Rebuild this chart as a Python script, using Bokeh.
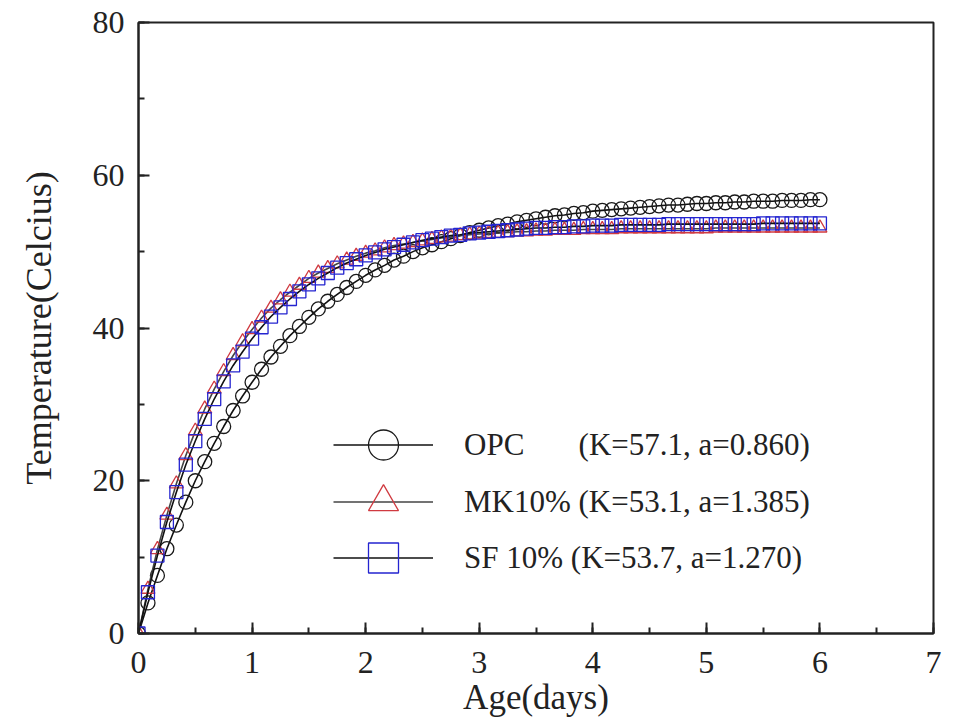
from bokeh.plotting import figure
from bokeh.models import ColumnDataSource, Legend, LegendItem, SingleIntervalTicker, Range1d
from bokeh.embed import file_html
from bokeh.resources import INLINE

# ---- data (one reading every 2 hours) ----
age_hours = [0, 2, 4, 6, 8, 10, 12, 14, 16, 18, 20, 22,
             24, 26, 28, 30, 32, 34, 36, 38, 40, 42, 44, 46,
             48, 50, 52, 54, 56, 58, 60, 62, 64, 66, 68, 70,
             72, 74, 76, 78, 80, 82, 84, 86, 88, 90, 92, 94,
             96, 98, 100, 102, 104, 106, 108, 110, 112, 114, 116, 118,
             120, 122, 124, 126, 128, 130, 132, 134, 136, 138, 140, 142, 144]

opc_temp = [0.0, 4.0, 7.6, 11.1, 14.2, 17.2, 20.0, 22.5, 24.9, 27.1, 29.2, 31.1,
            32.9, 34.6, 36.2, 37.6, 39.0, 40.2, 41.4, 42.5, 43.5, 44.4, 45.3, 46.1,
            46.9, 47.6, 48.2, 48.9, 49.4, 50.0, 50.5, 50.9, 51.3, 51.7, 52.1, 52.5,
            52.8, 53.1, 53.4, 53.6, 53.9, 54.1, 54.3, 54.5, 54.7, 54.8, 55.0, 55.1,
            55.3, 55.4, 55.5, 55.6, 55.7, 55.8, 55.9, 56.0, 56.1, 56.1, 56.2, 56.3,
            56.3, 56.4, 56.4, 56.5, 56.5, 56.6, 56.6, 56.6, 56.7, 56.7, 56.7, 56.8, 56.8]

mk_temp = [0.0, 5.8, 11.0, 15.5, 19.6, 23.3, 26.5, 29.4, 32.0, 34.3, 36.4, 38.2,
           39.8, 41.3, 42.6, 43.7, 44.7, 45.6, 46.5, 47.2, 47.8, 48.4, 48.9, 49.4,
           49.8, 50.1, 50.5, 50.8, 51.0, 51.2, 51.4, 51.6, 51.8, 51.9, 52.1, 52.2,
           52.3, 52.4, 52.4, 52.5, 52.6, 52.6, 52.7, 52.7, 52.8, 52.8, 52.8, 52.9,
           52.9, 52.9, 52.9, 53.0, 53.0, 53.0, 53.0, 53.0, 53.0, 53.0, 53.0, 53.0,
           53.0, 53.1, 53.1, 53.1, 53.1, 53.1, 53.1, 53.1, 53.1, 53.1, 53.1, 53.1, 53.1]

sf_temp = [0.0, 5.4, 10.2, 14.6, 18.5, 22.1, 25.2, 28.1, 30.7, 33.0, 35.1, 36.9,
           38.6, 40.1, 41.5, 42.7, 43.8, 44.8, 45.7, 46.5, 47.2, 47.9, 48.5, 49.0,
           49.5, 49.9, 50.3, 50.6, 50.9, 51.2, 51.5, 51.7, 51.9, 52.1, 52.2, 52.4,
           52.5, 52.6, 52.7, 52.8, 52.9, 53.0, 53.1, 53.1, 53.2, 53.2, 53.3, 53.3,
           53.4, 53.4, 53.4, 53.5, 53.5, 53.5, 53.5, 53.5, 53.6, 53.6, 53.6, 53.6,
           53.6, 53.6, 53.6, 53.6, 53.6, 53.6, 53.7, 53.7, 53.7, 53.7, 53.7, 53.7, 53.7]

age_days = [h / 24 for h in age_hours]

series_labels = ["OPC\u00a0\u00a0\u00a0\u00a0\u00a0\u00a0\u00a0(K=57.1, a=0.860)",
                 "MK10% (K=53.1, a=1.385)",
                 "SF 10% (K=53.7, a=1.270)"]

x_title = "Age(days)"
y_title = "Temperature(Celcius)"

FONT = "Liberation Serif"
AXC = "#222222"

p = figure(width=942, height=724, output_backend="svg", toolbar_location=None,
           x_range=Range1d(0, 7), y_range=Range1d(0, 80),
           min_border_left=138, min_border_right=9, min_border_top=22, min_border_bottom=91)
p.background_fill_color = "white"
p.border_fill_color = "white"
p.outline_line_color = AXC
p.outline_line_width = 2
p.xgrid.visible = False
p.ygrid.visible = False

p.xaxis.ticker = SingleIntervalTicker(interval=1, num_minor_ticks=2)
p.yaxis.ticker = SingleIntervalTicker(interval=20, num_minor_ticks=2)

for ax in (p.xaxis[0], p.yaxis[0]):
    ax.axis_line_color = AXC
    ax.axis_line_width = 2
    ax.major_tick_line_color = AXC
    ax.major_tick_line_width = 2
    ax.minor_tick_line_color = AXC
    ax.minor_tick_line_width = 2
    ax.major_tick_in = 11
    ax.major_tick_out = 0
    ax.minor_tick_in = 6
    ax.minor_tick_out = 0
    ax.major_label_text_font = FONT
    ax.major_label_text_font_size = "32px"
    ax.major_label_text_color = AXC
    ax.axis_label_text_font = FONT
    ax.axis_label_text_font_style = "normal"
    ax.axis_label_text_color = AXC

p.xaxis.axis_label = x_title
p.yaxis.axis_label = y_title
p.xaxis.axis_label_text_font_size = "35px"
p.yaxis.axis_label_text_font_size = "36px"
p.xaxis.major_label_standoff = 18
p.xaxis.axis_label_standoff = 2
p.yaxis.major_label_standoff = 14
p.yaxis.axis_label_standoff = 31

src_opc = ColumnDataSource(dict(x=age_days, y=opc_temp))
src_mk = ColumnDataSource(dict(x=age_days, y=mk_temp))
src_sf = ColumnDataSource(dict(x=age_days, y=sf_temp))

l_opc = p.line("x", "y", source=src_opc, line_color="#111111", line_width=1.6)
s_opc = p.scatter("x", "y", source=src_opc, marker="circle", size=14,
                  fill_color=None, line_color="#1a1a1a", line_width=1.3)
l_mk = p.line("x", "y", source=src_mk, line_color="#444444", line_width=1.6)
s_mk = p.scatter("x", "y", source=src_mk, marker="triangle", size=14,
                 fill_color=None, line_color="#d03a40", line_width=1.3)
l_sf = p.line("x", "y", source=src_sf, line_color="#111111", line_width=1.6)
s_sf = p.scatter("x", "y", source=src_sf, marker="square", size=13,
                 fill_color=None, line_color="#2424d0", line_width=1.3)

entries = [(series_labels[0], [l_opc, s_opc], 151),
           (series_labels[1], [l_mk, s_mk], 94),
           (series_labels[2], [l_sf, s_sf], 38)]
for label, rends, ypos in entries:
    lg = Legend(items=[LegendItem(label=label, renderers=rends)],
                location=(195, ypos), glyph_width=100, glyph_height=75,
                label_standoff=31, padding=0, margin=0,
                label_text_font=FONT, label_text_font_size="31px", label_text_color=AXC,
                border_line_color=None, background_fill_alpha=0)
    p.add_layout(lg, "center")

open("out.html", "w").write(file_html(p, INLINE))
